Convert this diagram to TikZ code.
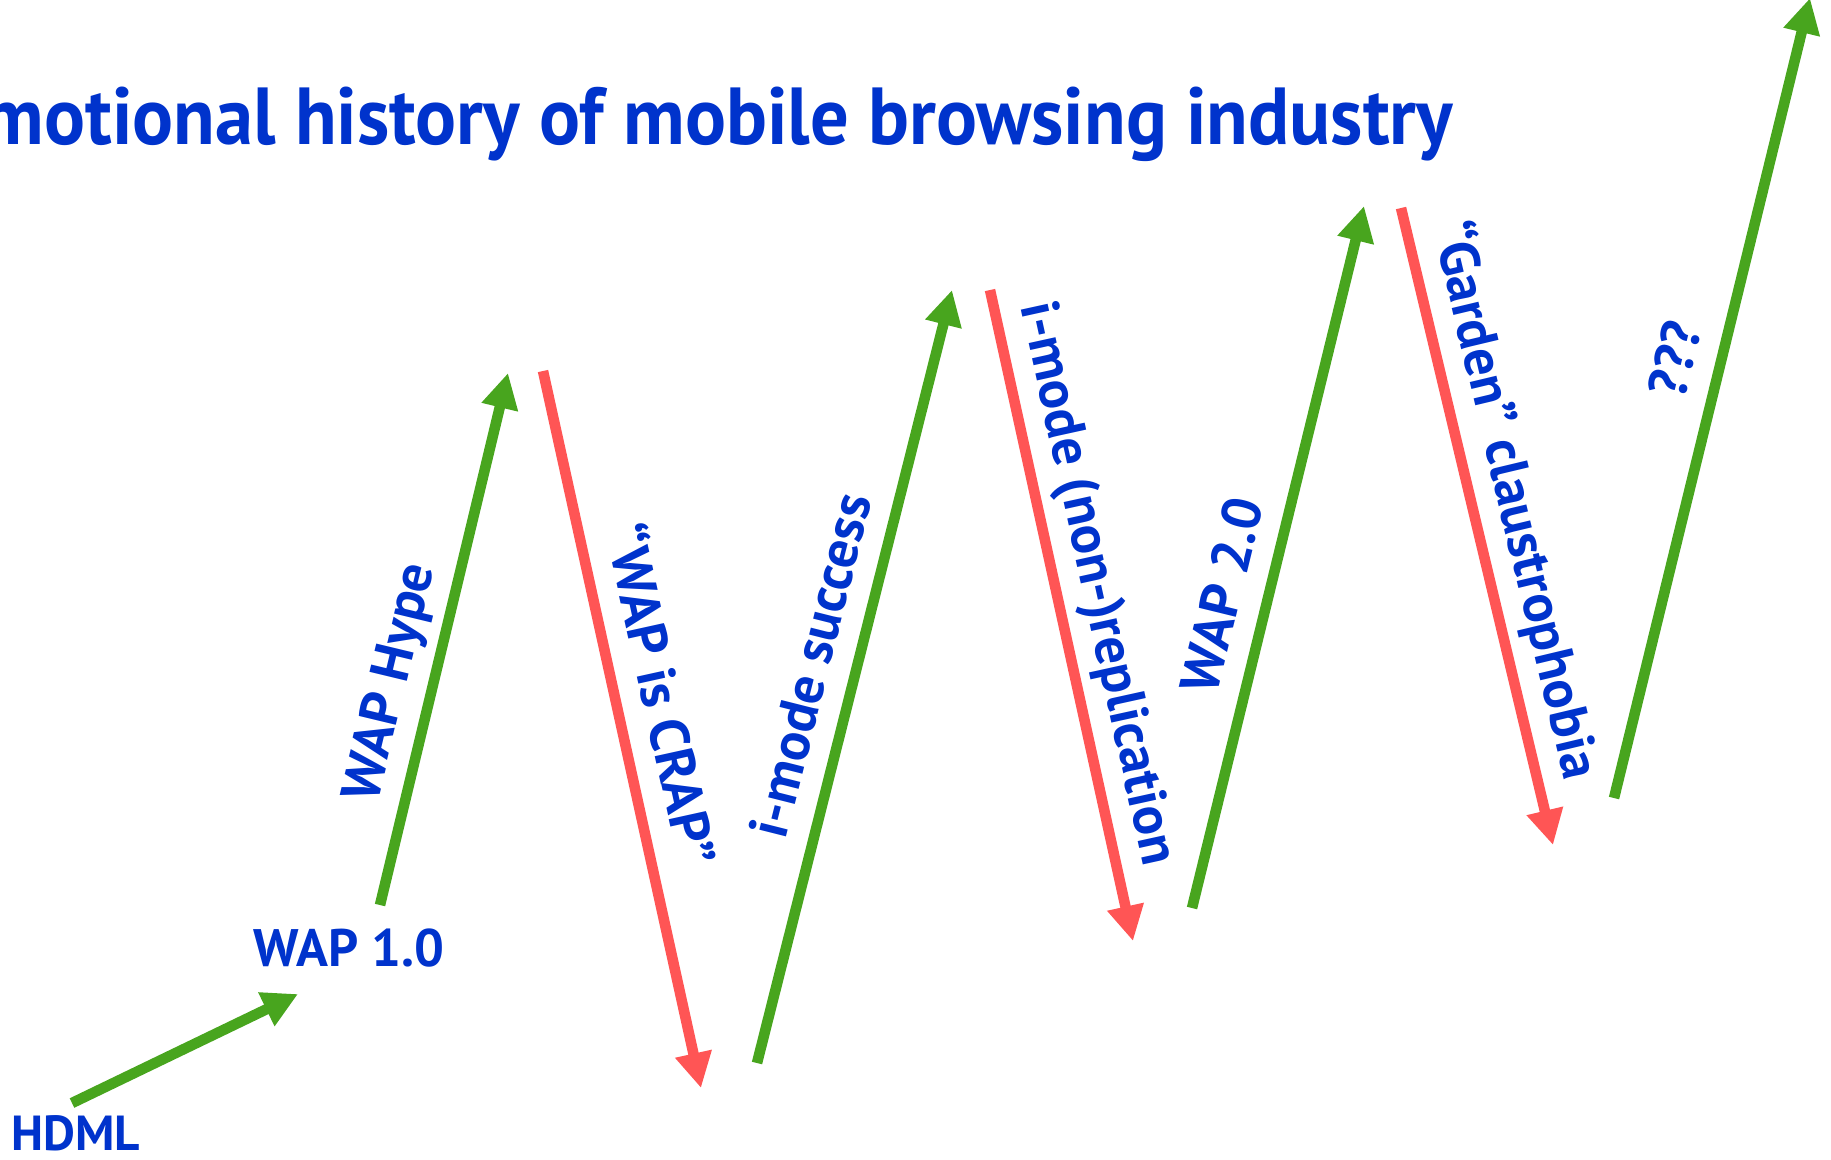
\documentclass[tikz,border=0pt]{standalone}
\usepackage{fontspec}
\setmainfont{PT Sans}
\newfontfamily\titlefont[FakeStretch=0.945]{PT Sans}
\usetikzlibrary{arrows.meta}

\definecolor{upgreen}{RGB}{72,165,30}
\definecolor{downred}{RGB}{255,85,85}
\definecolor{labelblue}{RGB}{0,51,204}

\tikzset{
  rise/.style={draw=upgreen, line width=3pt, -{Triangle[length=10pt,width=10pt]}},
  fall/.style={draw=downred, line width=3pt, -{Triangle[length=10pt,width=10pt]}},
  stage/.style={text=labelblue, font=\bfseries\fontsize{14}{16}\selectfont,
    inner sep=2pt, text height=10pt, text depth=3pt},
  mood/.style={stage, font=\bfseries\fontsize{15.6}{18}\selectfont, sloped, above=1pt},
}

\begin{document}
\begin{tikzpicture}[x=0.01cm,y=-0.01cm]
    \useasboundingbox (0,0) rectangle (1831,1159);
    \clip (0,0) rectangle (1831,1159);

    % title, first letter runs off the page
    \node[text=labelblue, font=\titlefont\bfseries\fontsize{23}{26}\selectfont,
      anchor=base east, inner sep=0pt] (title) at (1454,144)
      {Emotional history of mobile browsing industry};

    % end points of the zigzag
    \coordinate (H1) at (72,1103);
    \coordinate (H2) at (298,994);
    \coordinate (A1) at (380,905);
    \coordinate (A2) at (508,373);
    \coordinate (B1) at (543,371);
    \coordinate (B2) at (701,1088);
    \coordinate (C1) at (757,1063);
    \coordinate (C2) at (952,290);
    \coordinate (D1) at (990,290);
    \coordinate (D2) at (1133,941);
    \coordinate (E1) at (1192,908);
    \coordinate (E2) at (1364,206);
    \coordinate (F1) at (1401,208);
    \coordinate (F2) at (1553,845);
    \coordinate (G1) at (1614,798);
    \coordinate (G2) at (1810,-2);

    \node[stage] (hdml) at (76,1138) {HDML};
    \node[stage, font=\bfseries\fontsize{15}{17}\selectfont] (wap10) at (349,954) {WAP 1.0};

    \draw[rise] (H1) -- (H2);
    \draw[rise] (A1) -- node[mood, pos=0.40] (hype) {WAP Hype} (A2);
    \draw[fall] (B1) -- node[mood, pos=0.465] (crap) {“WAP is CRAP”} (B2);
    \draw[rise] (C1) -- node[mood, pos=0.50] (imode) {i-mode success} (C2);
    \draw[fall] (D1) -- node[mood, pos=0.465] (nonrep) {i-mode (non-)replication} (D2);
    \draw[rise] (E1) -- node[mood, pos=0.43] (wap20) {WAP 2.0} (E2);
    \draw[fall] (F1) -- node[mood, pos=0.475] (garden) {“Garden” claustrophobia} (F2);
    \draw[rise] (G1) -- node[mood, pos=0.535] (next) {???} (G2);
\end{tikzpicture}
\end{document}
